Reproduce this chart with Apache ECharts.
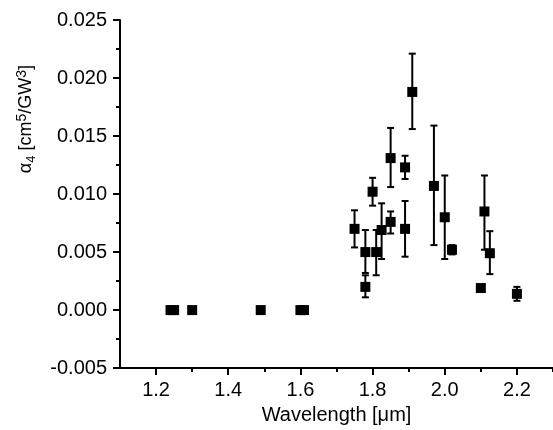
<!DOCTYPE html>
<html>
<head>
<meta charset="utf-8">
<script src="https://cdn.jsdelivr.net/npm/echarts@6/dist/echarts.min.js"></script>
<style>
html,body{margin:0;padding:0;background:#fff;}
#chart{width:553px;height:430px;}
</style>
</head>
<body>
<div id="chart"></div>
<script>
// Wavelength (µm)
var wavelength = [1.24, 1.25, 1.30, 1.49, 1.60, 1.61,
  1.75, 1.78, 1.78, 1.80, 1.81, 1.825, 1.85, 1.85, 1.89, 1.89, 1.91,
  1.97, 2.00, 2.02, 2.10, 2.11, 2.125, 2.20];
// alpha4 values (cm^5/GW^3)
var alpha4 = [0, 0, 0, 0, 0, 0,
  0.0070, 0.0020, 0.0050, 0.0102, 0.0050, 0.0069, 0.0076, 0.0131, 0.0123, 0.0070, 0.0188,
  0.0107, 0.0080, 0.0052, 0.0019, 0.0085, 0.0049, 0.0014];
// error bar lower / upper limits (null = no bar)
var errLow = [null, null, null, null, null, null,
  0.0054, 0.0011, 0.0032, 0.0090, 0.0030, 0.0044, 0.0066, 0.0106, 0.0113, 0.0046, 0.0156,
  0.0056, 0.0044, 0.0048, null, 0.0052, 0.0031, 0.0008];
var errHigh = [null, null, null, null, null, null,
  0.0086, 0.0030, 0.0069, 0.0114, 0.0069, 0.0092, 0.0085, 0.0157, 0.0133, 0.0094, 0.0221,
  0.0159, 0.0116, 0.0056, null, 0.0116, 0.0068, 0.0020];
// axis tick values
var xMajorTicks = [1.2, 1.4, 1.6, 1.8, 2.0, 2.2];
var xMinorTicks = [1.3, 1.5, 1.7, 1.9, 2.1, 2.3];

var pointData = wavelength.map(function (x, i) { return [x, alpha4[i]]; });
var errData = [];
wavelength.forEach(function (x, i) {
  if (errLow[i] !== null) errData.push([x, errLow[i], errHigh[i]]);
});

var font = 'Liberation Sans, Arial, Helvetica, sans-serif';
var chart = echarts.init(document.getElementById('chart'), null, {renderer: 'canvas'});
chart.setOption({
  animation: false,
  backgroundColor: '#fff',
  grid: {left: 120, top: 20, width: 434, height: 354, containLabel: false},
  xAxis: [{
    type: 'value', min: 1.1, max: 2.3,
    name: 'Wavelength [\u03bcm]', nameLocation: 'middle', nameGap: 29,
    nameTextStyle: {fontFamily: font, fontSize: 20, color: '#000'},
    axisLine: {show: true, onZero: false, lineStyle: {color: '#000', width: 2}},
    axisTick: {show: true, inside: false, length: 7, customValues: xMajorTicks,
      lineStyle: {color: '#000', width: 2}},
    axisLabel: {customValues: xMajorTicks, margin: 12, fontFamily: font, fontSize: 20, color: '#000',
      formatter: function (v) { return v.toFixed(1); }},
    splitLine: {show: false}
  }, {
    type: 'value', min: 1.1, max: 2.3, position: 'bottom',
    axisLine: {show: false, onZero: false},
    axisTick: {show: true, inside: false, length: 4, customValues: xMinorTicks,
      lineStyle: {color: '#000', width: 2}},
    axisLabel: {show: false},
    splitLine: {show: false}
  }],
  yAxis: {
    type: 'value', min: -0.005, max: 0.025, interval: 0.005,
    name: '{a|\u03b1}{sub|4}{a| [cm}{sup|5}{a|/GW}{sup|3}{a|]}',
    nameLocation: 'middle', nameGap: 82, nameRotate: 90,
    nameTextStyle: {
      fontFamily: font, fontSize: 18, color: '#000', padding: [0, 0, 0, 150],
      rich: {
        a: {fontFamily: font, fontSize: 18, color: '#000'},
        sub: {fontFamily: font, fontSize: 13, color: '#000', verticalAlign: 'bottom', padding: [10, 0, 0, 0]},
        sup: {fontFamily: font, fontSize: 14, color: '#000', verticalAlign: 'top', padding: [0, 0, 9, 0]}
      }
    },
    axisLine: {show: true, onZero: false, lineStyle: {color: '#000', width: 2}},
    axisTick: {show: true, inside: false, length: 7, lineStyle: {color: '#000', width: 2}},
    minorTick: {show: true, splitNumber: 2, length: 4, lineStyle: {color: '#000', width: 2}},
    axisLabel: {margin: 13, fontFamily: font, fontSize: 20, color: '#000',
      formatter: function (v) { return v.toFixed(3); }},
    splitLine: {show: false}
  },
  series: [{
    type: 'custom',
    xAxisIndex: 0,
    data: errData,
    renderItem: function (params, api) {
      var x = api.value(0);
      var lo = api.coord([x, api.value(1)]);
      var hi = api.coord([x, api.value(2)]);
      var cw = 3.5;
      var style = {stroke: '#000', lineWidth: 2};
      return {
        type: 'group',
        children: [
          {type: 'line', shape: {x1: lo[0], y1: lo[1], x2: hi[0], y2: hi[1]}, style: style},
          {type: 'line', shape: {x1: lo[0] - cw, y1: lo[1], x2: lo[0] + cw, y2: lo[1]}, style: style},
          {type: 'line', shape: {x1: hi[0] - cw, y1: hi[1], x2: hi[0] + cw, y2: hi[1]}, style: style}
        ]
      };
    },
    z: 2
  }, {
    type: 'scatter',
    xAxisIndex: 0,
    data: pointData,
    symbol: 'rect',
    symbolSize: 10,
    itemStyle: {color: '#000', opacity: 1},
    emphasis: {disabled: true},
    z: 3
  }]
});
</script>
</body>
</html>
